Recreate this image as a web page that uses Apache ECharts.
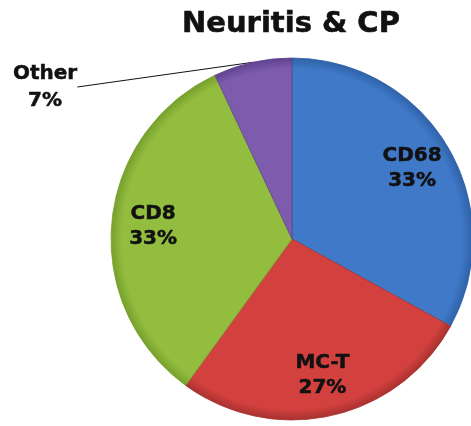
<!DOCTYPE html>
<html>
<head>
<meta charset="utf-8">
<script src="https://cdn.jsdelivr.net/npm/echarts@6/dist/echarts.min.js"></script>
<style>
  html, body { margin: 0; padding: 0; background: #fff; }
  #chart { width: 471px; height: 426px; }
</style>
</head>
<body>
<div id="chart"></div>
<script>
// slice data, clockwise from 12 o'clock
const names = ['CD68', 'MC-T', 'CD8', 'Other']
const values = [33, 27, 33, 7]
const colors = ['#4079C8', '#D3413F', '#93BD3F', '#7D5BAD']
const edges = ['#2F62A8', '#A83230', '#76A02C', '#5F4390']

const font = 'DejaVu Sans'
const center = [292, 239]
const R = 181

// slight darkening toward the rim, like the office pie style
function fill (i) {
  return {
    type: 'radial',
    x: center[0],
    y: center[1],
    r: R,
    global: true,
    colorStops: [
      { offset: 0, color: colors[i] },
      { offset: 0.94, color: colors[i] },
      { offset: 1, color: edges[i] }
    ]
  }
}

let mainData = names.map((n, i) => ({
  name: n,
  value: values[i],
  itemStyle: { color: fill(i), borderColor: edges[i], borderWidth: 0.8 },
  label: { show: n === 'Other' },
  labelLine: { show: n === 'Other' }
}))

let labelData = names.map((n, i) => ({
  name: n,
  value: values[i],
  label: { show: n !== 'Other' }
}))

let textStyle = {
  fontFamily: font,
  fontWeight: 'bold',
  fontSize: 20,
  color: '#111',
  textBorderColor: '#111',
  textBorderWidth: 0.5
}

let chart = echarts.init(document.getElementById('chart'))
chart.setOption({
  animation: false,
  title: {
    text: 'Neuritis & CP',
    left: 177,
    top: 5,
    textStyle: {
      fontFamily: font, fontWeight: 'bold', fontSize: 29, color: '#111',
      textBorderColor: '#111', textBorderWidth: 0.6
    }
  },
  series: [
    {
      type: 'pie',
      center: center,
      radius: R,
      startAngle: 90,
      clockwise: true,
      silent: true,
      data: mainData,
      label: Object.assign({
        position: 'outside',
        formatter: '{b}\n{c}%',
        lineHeight: 27,
        align: 'center'
      }, textStyle),
      labelLine: {
        length: 0,
        length2: 0,
        lineStyle: { color: '#111', width: 1 }
      },
      labelLayout (params) {
        if (params.dataIndex === 3) {
          return { x: 45, y: 87, align: 'center', verticalAlign: 'middle' }
        }
      }
    },
    {
      // transparent ring that only carries the inside labels
      type: 'pie',
      center: center,
      radius: [92, R],
      startAngle: 90,
      clockwise: true,
      silent: true,
      data: labelData,
      itemStyle: { color: 'rgba(0,0,0,0)' },
      labelLine: { show: false },
      label: Object.assign({
        position: 'inside',
        formatter: '{b}\n{c}%',
        lineHeight: 25
      }, textStyle)
    }
  ]
})
</script>
</body>
</html>
